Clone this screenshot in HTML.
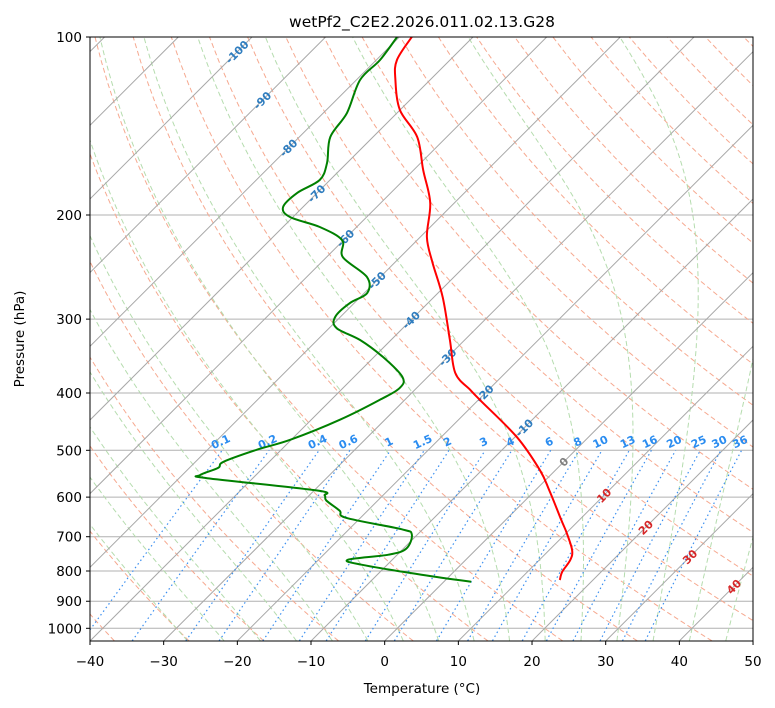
<!DOCTYPE html>
<html><head><meta charset="utf-8"><style>
html,body{margin:0;padding:0;background:#fff;}
svg{display:block;font-family:"DejaVu Sans","Liberation Sans",sans-serif;}
</style></head><body>
<svg id="chart" width="775" height="708" viewBox="0 0 775 708" xmlns="http://www.w3.org/2000/svg">
<defs><clipPath id="plotclip"><rect x="90" y="37" width="663" height="604"/></clipPath></defs>
<rect x="0" y="0" width="775" height="708" fill="#fff"/>
<text x="422" y="27" text-anchor="middle" font-size="15.5" fill="#000">wetPf2_C2E2.2026.011.02.13.G28</text>
<g id="bg" clip-path="url(#plotclip)"></g>
<g id="labels"></g>
<g id="profiles" clip-path="url(#plotclip)"></g>
<rect x="90" y="37" width="663" height="604" fill="none" stroke="#000" stroke-width="1"/>
<g id="axes"></g>
<text x="422" y="693" text-anchor="middle" font-size="13.5">Temperature (°C)</text>
<text x="24" y="339" text-anchor="middle" font-size="13.5" transform="rotate(-90 24 339)">Pressure (hPa)</text>
</svg>
<script>
const tempP = [100,109.4,118.2,132.9,147.6,167.9,190.7,217.9,241.1,275.4,325.4,370,395,410.9,475.2,540.4,584.4,656.6,690.6,737.4,766.3,802.2,828.6];
const tempT = [-78.3,-77.2,-74.7,-70.0,-64.0,-58.7,-53.3,-49.1,-44.8,-38.8,-32.0,-26.8,-22.5,-19.8,-9.7,-2.1,1.9,7.6,10.1,13.1,14.2,14.7,15.5];
const dewP = [100,109.4,118.2,134.4,147.6,163.4,174.5,183.5,193.9,201.6,209.6,220.5,235.6,254.7,271.1,281.8,297.6,310.7,325.4,347.6,376,392.6,410.9,443.9,479.8,498.8,522.9,535.5,550.6,557.3,584.4,596,607.9,632.5,650.4,679.9,693.6,733.2,750.7,765.6,780.7,811.7,834.1];
const dewT = [-80.3,-79.5,-79.5,-76.8,-75.8,-72.7,-71.4,-72.7,-72.7,-70.4,-65.0,-60.2,-57.8,-51.8,-49.6,-50.6,-50.7,-49.0,-44.2,-38.8,-33.4,-32.3,-33.4,-36.1,-40.1,-43.3,-46.2,-46.1,-47.6,-46.2,-29.7,-27.9,-27.0,-23.8,-21.95,-12.9,-10.8,-9.6,-11.2,-16.0,-13.5,-4.0,3.7];
const pTicks = [100,200,300,400,500,600,700,800,900,1000];
const tTicks = [-40,-30,-20,-10,0,10,20,30,40,50];
const mixRatios = [0.1,0.2,0.4,0.6,1,1.5,2,3,4,6,8,10,13,16,20,25,30,36];
const mixLabels = ["0.1","0.2","0.4","0.6","1","1.5","2","3","4","6","8","10","13","16","20","25","30","36"];
const isoLabelT = [-100,-90,-80,-70,-60,-50,-40,-30,-20,-10,0,10,20,30,40];
const isoLabelP = [106,128,154,184,219,258,301,348,401,458,523,596,675,757,850];

const NS="http://www.w3.org/2000/svg";
const yP = p => 37 + 256.8*Math.log(p/100);
const xT = (T,p) => 90 + (T+40)*7.367 + (641 - yP(p));
function mk(tag, parent){const e=document.createElementNS(NS,tag);parent.appendChild(e);return e;}
function pathD(pts){return pts.map((q,i)=>(i?'L':'M')+xT(q[0],q[1]).toFixed(1)+','+yP(q[1]).toFixed(1)).join('');}
function smoothD(pts){
  const P=pts.map(q=>[xT(q[0],q[1]),yP(q[1])]);
  let d='M'+P[0][0].toFixed(1)+','+P[0][1].toFixed(1);
  for(let i=0;i<P.length-1;i++){
    const p0=P[Math.max(0,i-1)],p1=P[i],p2=P[i+1],p3=P[Math.min(P.length-1,i+2)];
    const c1=[p1[0]+(p2[0]-p0[0])/6,p1[1]+(p2[1]-p0[1])/6];
    const c2=[p2[0]-(p3[0]-p1[0])/6,p2[1]-(p3[1]-p1[1])/6];
    d+='C'+c1[0].toFixed(1)+','+c1[1].toFixed(1)+' '+c2[0].toFixed(1)+','+c2[1].toFixed(1)+' '+p2[0].toFixed(1)+','+p2[1].toFixed(1);
  }
  return d;
}
const bg=document.getElementById('bg'), prof=document.getElementById('profiles'), axes=document.getElementById('axes'), lab=document.getElementById('labels');

pTicks.forEach(p=>{
  const l=mk('line',bg);
  
  
  l.setAttribute('x1',90);l.setAttribute('x2',753);l.setAttribute('y1',yP(p));l.setAttribute('y2',yP(p));
  l.setAttribute('stroke','#b0b0b0');l.setAttribute('stroke-width','1');
});
for(let th=-130; th<=220; th+=10){
  const pts=[];
  for(let p=1050;p>=100;p-=10){pts.push([(th+273.15)*Math.pow(p/1000,0.2857)-273.15,p]);}
  const e=mk('path',bg);
  
  
  e.setAttribute('d',pathD(pts));e.setAttribute('fill','none');e.setAttribute('stroke','#f6a990');e.setAttribute('stroke-width','1');e.setAttribute('stroke-dasharray','5 3');
}
function es(Tc){return 6.112*Math.exp(17.67*Tc/(Tc+243.5));}
function dTdp(T,p){const Tc=T-273.15;const e=es(Tc);const rs=0.622*e/(p-e);const Lv=2.5e6,Rd=287,cp=1005;
  return (Rd*T+Lv*rs)/(p*(cp+Lv*Lv*rs*0.622/(Rd*T*T)));}
for(let t0=-30;t0<=50;t0+=5){
  let pts=[];let T=t0+273.15;
  for(let p=1000;p<1050;p+=5){T+=dTdp(T,p)*5;}
  let p=1050;pts.push([T-273.15,p]);
  while(p>100){T-=dTdp(T,p)*5;p-=5;pts.push([T-273.15,p]);}
  const e=mk('path',bg);
  
  
  e.setAttribute('d',pathD(pts));e.setAttribute('fill','none');e.setAttribute('stroke','#b5dcae');e.setAttribute('stroke-width','1');e.setAttribute('stroke-dasharray','5 3');
}
for(let t=-170;t<=50;t+=10){
  const e=mk('path',bg);
  
  
  e.setAttribute('d',pathD([[t,1050],[t,100]]));e.setAttribute('stroke','#a8a8a8');e.setAttribute('stroke-width','1');
}
mixRatios.forEach((w,i)=>{
  const pts=[];
  for(let p=1050;p>=500;p-=10){const e=w*p/(622+w);const L=Math.log(e/6.112);pts.push([243.5*L/(17.67-L),p]);}
  const e=mk('path',bg);
  
  
  e.setAttribute('d',pathD(pts));e.setAttribute('fill','none');e.setAttribute('stroke','#3b8ff0');e.setAttribute('stroke-width','1.2');e.setAttribute('stroke-dasharray','1.5 3');
  const top=pts[pts.length-1];const x=xT(top[0],top[1]), y=yP(top[1])-5;
  const t=mk('text',lab);
  
  
  t.setAttribute('x',x);t.setAttribute('y',y);t.setAttribute('font-size','11');t.setAttribute('font-weight','bold');t.setAttribute('fill','#2a8cf0');t.setAttribute('text-anchor','middle');
  t.setAttribute('transform','rotate(-25 '+x+' '+y+')');t.textContent=mixLabels[i];
});
isoLabelT.forEach((T,i)=>{
  const p=isoLabelP[i];const x=xT(T,p), y=yP(p);
  const t=mk('text',lab);
  
  
  t.setAttribute('x',x);t.setAttribute('y',y+4);t.setAttribute('font-size','11');t.setAttribute('font-weight','bold');
  t.setAttribute('fill',T<0?'#2f7dbf':(T===0?'#808080':'#d62728'));t.setAttribute('text-anchor','middle');
  t.setAttribute('transform','rotate(-45 '+x+' '+y+')');t.textContent=T;
});
function prof_line(P,T,color,name){
  const e=mk('path',prof);
  
  
  e.setAttribute('d',smoothD(P.map((p,i)=>[T[i],p])));e.setAttribute('fill','none');e.setAttribute('stroke',color);e.setAttribute('stroke-width','2');e.setAttribute('stroke-linejoin','round');
}
prof_line(tempP,tempT,'#ff0000','temperature-line');
prof_line(dewP,dewT,'#008000','dewpoint-line');
tTicks.forEach(t=>{
  const x=90+(t+40)*7.367;
  const l=mk('line',axes);
  
  
  l.setAttribute('x1',x);l.setAttribute('x2',x);l.setAttribute('y1',641);l.setAttribute('y2',645);l.setAttribute('stroke','#000');
  const tx=mk('text',axes);
  
  
  tx.setAttribute('x',x);tx.setAttribute('y',666);tx.setAttribute('font-size','13.5');tx.setAttribute('text-anchor','middle');tx.textContent=(t<0?'\u2212'+(-t):t);
});
pTicks.forEach(p=>{
  const y=yP(p);
  const l=mk('line',axes);
  
  
  l.setAttribute('x1',86);l.setAttribute('x2',90);l.setAttribute('y1',y);l.setAttribute('y2',y);l.setAttribute('stroke','#000');
  const tx=mk('text',axes);
  
  
  tx.setAttribute('x',82);tx.setAttribute('y',y+5);tx.setAttribute('font-size','13.5');tx.setAttribute('text-anchor','end');tx.textContent=p;
});
</script>
</body></html>
